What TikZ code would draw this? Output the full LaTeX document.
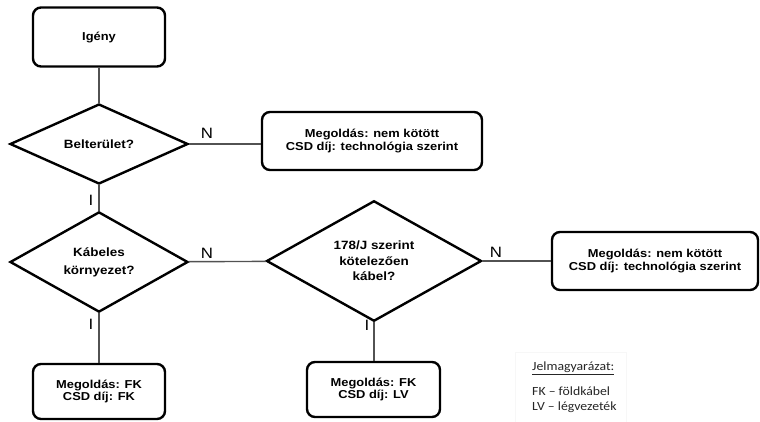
\documentclass[tikz,border=0pt]{standalone}
\usepackage{fontspec}
\setmainfont{Liberation Sans}[FakeStretch=1.12]
\newfontfamily\legendfont{Carlito}[FakeStretch=1.1]
\usetikzlibrary{shapes.geometric}

\begin{document}
\begin{tikzpicture}[x=1pt,y=-1pt,
  box/.style={draw,line width=2.4pt,rounded corners=8pt,align=center,inner sep=0pt,
    font=\bfseries\fontsize{11.5}{12.5}\selectfont},
  decision/.style={draw,diamond,line width=2.4pt,inner sep=0pt,align=center,
    font=\bfseries\fontsize{12}{15.5}\selectfont},
  conn/.style={draw=black!68,line width=1.4pt},
  lab/.style={inner sep=0pt,font=\fontsize{15}{15}\selectfont},
  legend/.style={inner sep=0pt,anchor=west,text=black!85,font=\legendfont\fontsize{12.5}{13}\selectfont}]

	\useasboundingbox (0,0) rectangle (760,421);

	% boxes and decisions
	\node[box,minimum width=132pt,minimum height=59pt] (igeny) at (99,37) {Igény};
	\node[decision,minimum width=178pt,minimum height=80pt] (belter) at (99,144) {Belterület?};
	\node[box,minimum width=220pt,minimum height=58pt] (nemkot1) at (372,141) {Megoldás: nem kötött\\CSD díj: technológia szerint};
	\node[decision,minimum width=178pt,minimum height=80pt,font=\bfseries\fontsize{12}{18}\selectfont] (kabeles) at (99,262) {Kábeles\\környezet?};
	\node[decision,minimum width=215pt,minimum height=83pt] (kotelezo) at (374,261) {178/J szerint\\kötelezően\\kábel?};
	\node[box,minimum width=206pt,minimum height=58pt] (nemkot2) at (655,261) {Megoldás: nem kötött\\CSD díj: technológia szerint};
	\node[box,minimum width=132pt,minimum height=55pt] (fk) at (99,391.5) {Megoldás: FK\\CSD díj: FK};
	\node[box,minimum width=133pt,minimum height=55pt] (lv) at (373.5,389.5) {Megoldás: FK\\CSD díj: LV};

	% connectors
	\draw[conn] (igeny) -- (belter);
	\draw[conn] (belter.east) -- (belter.east -| nemkot1.west);
	\draw[conn] (belter) -- (kabeles);
	\draw[conn] (kabeles) -- (kotelezo);
	\draw[conn] (kotelezo) -- (nemkot2);
	\draw[conn] (kabeles) -- (fk);
	\draw[conn] (kotelezo.south) -- (kotelezo.south |- lv.north);

	\node[lab] (n1) at (207,133) {N};
	\node[lab] (i1) at (91,200) {I};
	\node[lab] (n2) at (207,253) {N};
	\node[lab] (i2) at (91,324) {I};
	\node[lab] (n3) at (496,252) {N};
	\node[lab] (i3) at (367,325) {I};

	% legend
	\draw[black!3] (515,352) rectangle (626,424);
	\node[legend] (jelm) at (532,368) {\underline{Jelmagyarázat:}};
	\node[legend] (fkleg) at (532,391) {FK – földkábel};
	\node[legend] (lvleg) at (532,407) {LV – légvezeték};

\end{tikzpicture}
\end{document}
